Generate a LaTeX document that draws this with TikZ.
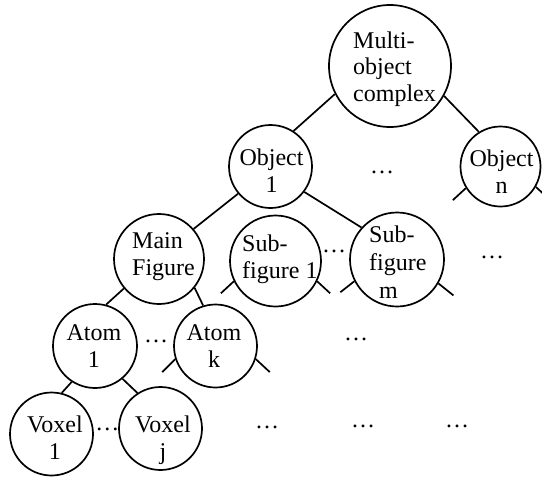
\documentclass[tikz,border=0pt]{standalone}
\usepackage{fontspec}
\setmainfont{Liberation Serif}
\begin{document}
\begin{tikzpicture}[x=1pt,y=-1pt,
  circ/.style={draw, circle, line width=1.7pt, inner sep=0pt},
  link/.style={line width=1.7pt},
  txt/.style={inner sep=0pt, font=\fontsize{24}{26.5}\selectfont}]
\useasboundingbox (0,0) rectangle (542,477);
% circles
\node[circ, minimum size=122pt] (multi) at (390,66) {};
\node[circ, minimum size=83pt] (obj1) at (270.5,166.5) {};
\node[circ, minimum size=80pt] (objn) at (500.5,166.5) {};
\node[circ, minimum size=90pt] (main) at (159,259) {};
\node[circ, minimum size=91pt] (sub1) at (275.5,261) {};
\node[circ, minimum size=94pt] (subm) at (397,259.5) {};
\node[circ, minimum size=84pt] (atom1) at (95,346) {};
\node[circ, minimum size=83pt] (atomk) at (215.5,346) {};
\node[circ, minimum size=83pt] (vox1) at (51.5,434) {};
\node[circ, minimum size=83pt] (voxj) at (160.5,428.5) {};
% texts (anchored at the baseline of the last line)
\node[txt, anchor=base west, align=left] (tmulti) at (353,101) {Multi-\\object\\complex};
\node[txt, anchor=base, align=center] (tobj1) at (271.5,192) {Object\\1};
\node[txt, anchor=base, align=center] (tobjn) at (501.5,193) {Object\\n};
\node[txt, anchor=base west, align=left] (tmain) at (132,275) {Main\\Figure};
\node[txt, anchor=base west, align=left] (tsub1) at (242,278) {Sub-\\figure 1};
\node[txt, anchor=base west, align=left, font=\fontsize{24}{28}\selectfont] (tsubm) at (369,298) {Sub-\\figure\\\hspace*{10pt}m};
\node[txt, anchor=base, align=center] (tatom1) at (94,367) {Atom\\1};
\node[txt, anchor=base, align=center] (tatomk) at (214,367) {Atom\\k};
\node[txt, anchor=base, align=center] (tvox1) at (55,459) {Voxel\\1};
\node[txt, anchor=base, align=center] (tvoxj) at (163,459) {Voxel\\j};
% ellipses
\node[txt, anchor=base] (e1) at (382,173) {…};
\node[txt, anchor=base] (e2) at (334,252) {…};
\node[txt, anchor=base] (e3) at (492,258) {…};
\node[txt, anchor=base] (e4) at (156,342) {…};
\node[txt, anchor=base] (e5) at (356,340) {…};
\node[txt, anchor=base] (e6) at (107.5,430) {…};
\node[txt, anchor=base] (e7) at (267,428) {…};
\node[txt, anchor=base] (e8) at (363,427) {…};
\node[txt, anchor=base] (e9) at (457,427) {…};
% connectors
\draw[link] (multi.207) -- (obj1.57);
\draw[link] (multi.331) -- (objn.122);
\draw[link] (obj1.220) -- (main.41);
\draw[link] (obj1.323) -- (subm.138);
\draw[link] (main.220) -- (atom1.75);
\draw[link] (main.321) -- (atomk.107);
\draw[link] (atom1.237) -- (vox1.76);
\draw[link] (atom1.310) -- (voxj.123);
% stubs
\draw[link] (objn.212) -- ++(-13,12);
\draw[link] (objn.330) -- ++(13,12);
\draw[link] (atomk.198) -- ++(-13,13);
\draw[link] (atomk.342) -- ++(14,13);
\draw[link] (sub1.206) -- ++(-13,12);
\draw[link] (sub1.334) -- ++(13,12);
\draw[link] (subm.207) -- ++(-14,11);
\draw[link] (subm.330) -- ++(15,12);
\end{tikzpicture}
\end{document}
